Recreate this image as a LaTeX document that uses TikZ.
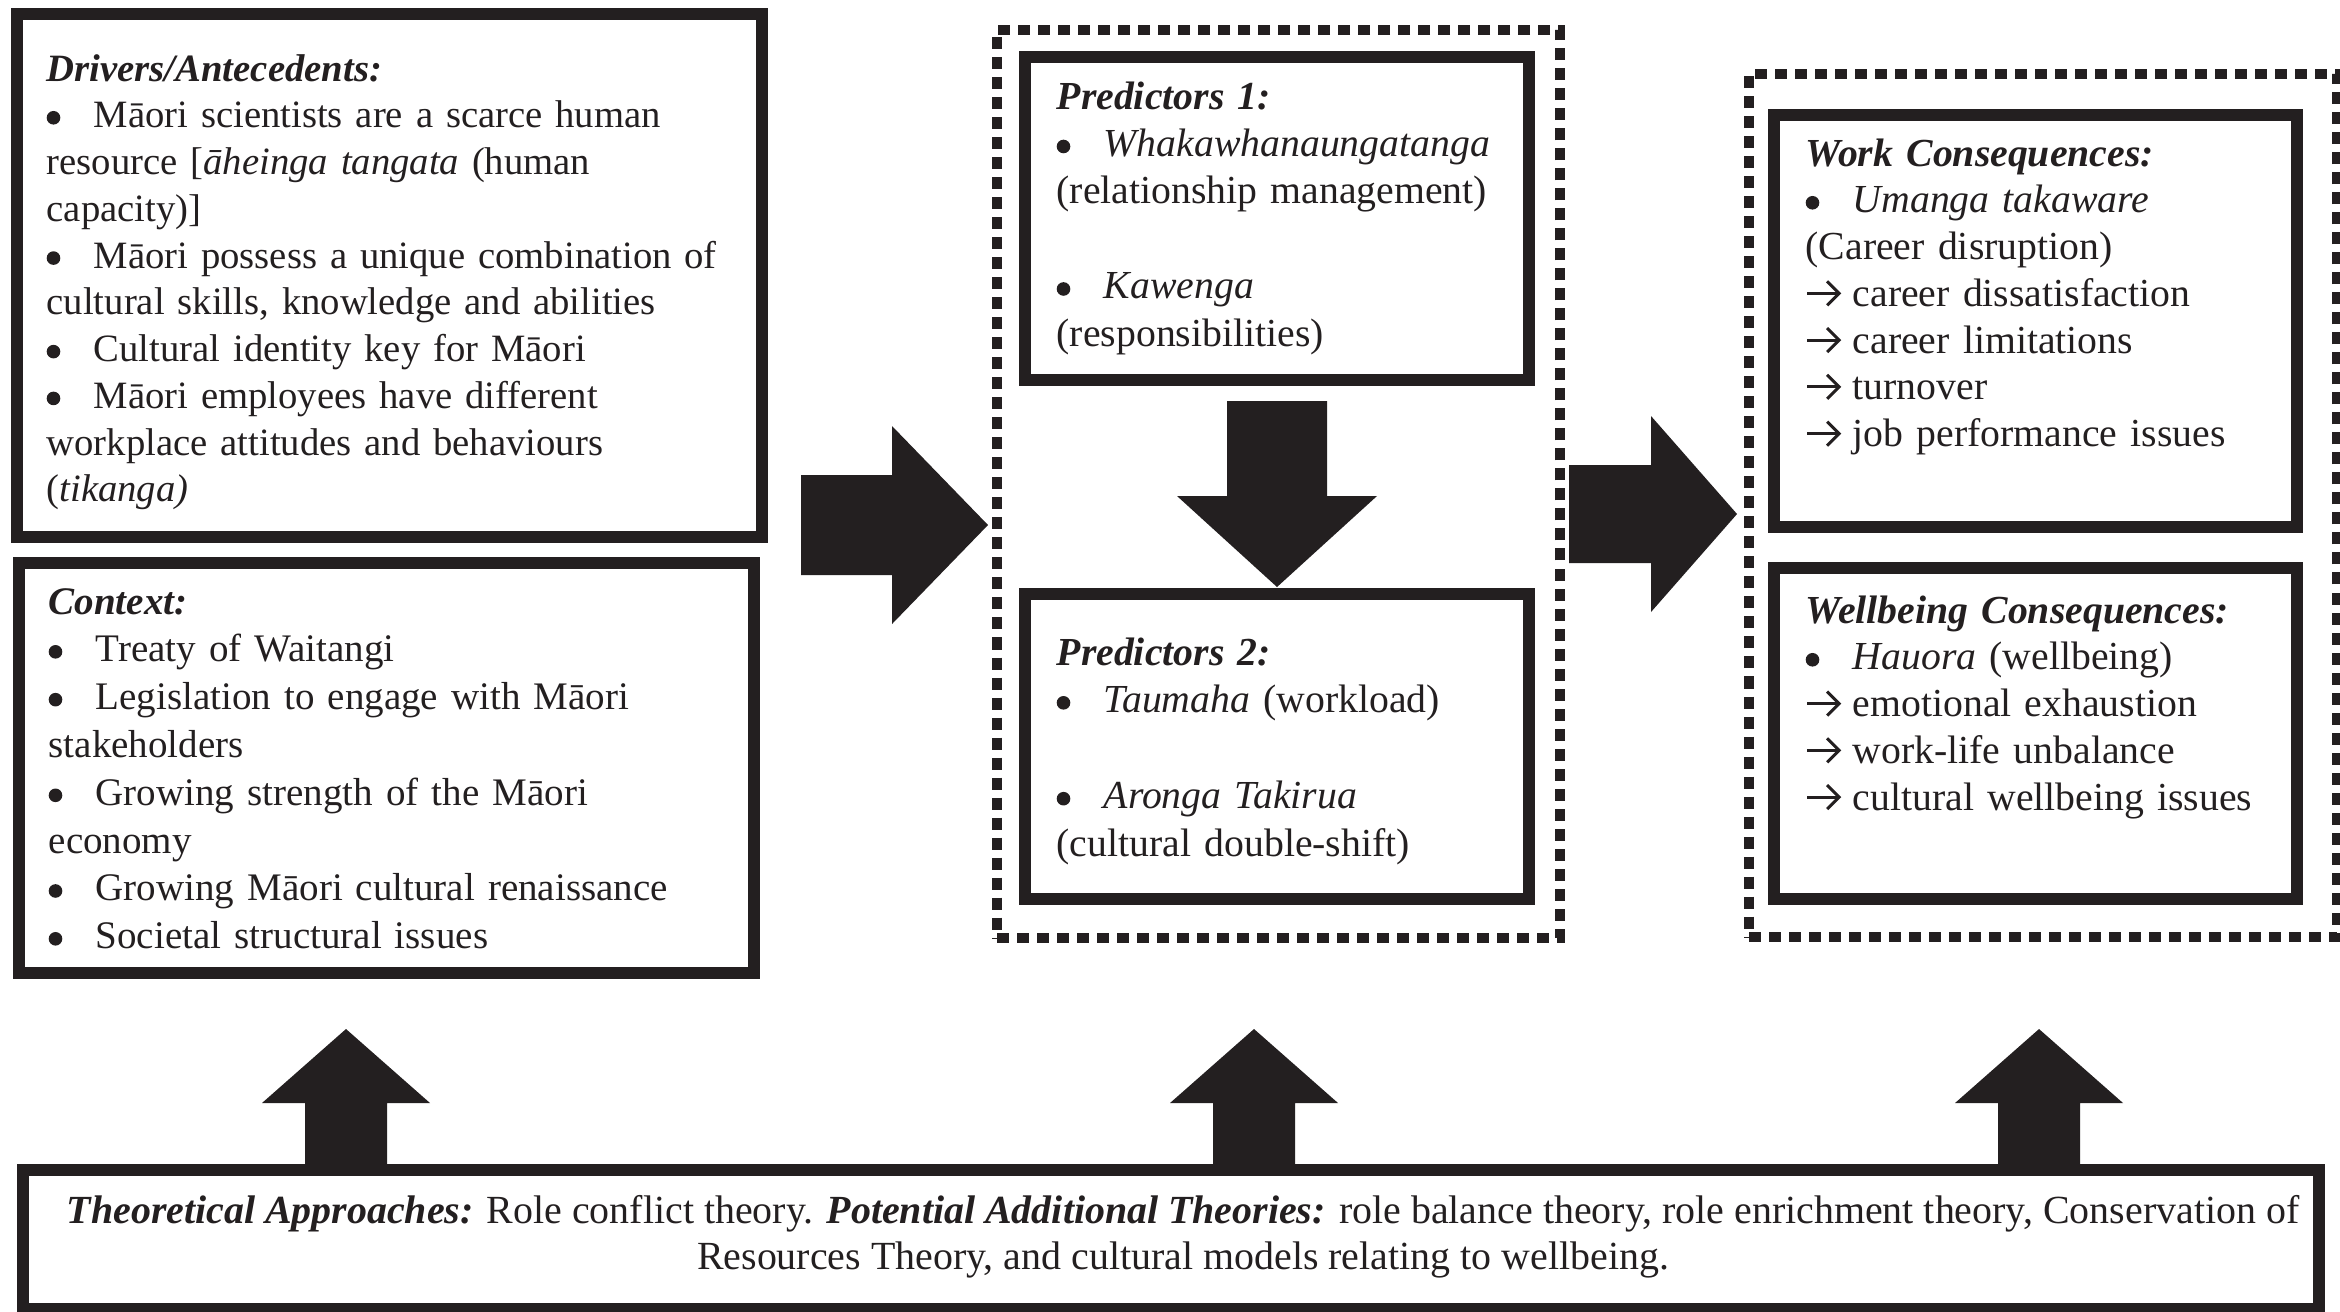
\documentclass[tikz,border=0pt]{standalone}
\usepackage{fontspec}
\setmainfont{Liberation Serif}
\usetikzlibrary{fit,arrows.meta}
\definecolor{ink}{RGB}{35,31,32}
% bullet and arrow markers with a fixed hanging width
\newcommand\bul{\makebox[0.47cm][l]{\tikz[baseline=-0.1cm,x=1cm,y=1cm]\fill[ink] (0.075,0) circle (0.068);}}
\newcommand\arr{\makebox[0.47cm][l]{\tikz[baseline=-0.13cm,x=1cm,y=1cm]\draw[ink,line width=0.03cm,-{Straight Barb[length=0.12cm,width=0.24cm]}] (0,0) -- (0.34,0);}}
\newcommand\hd[1]{\textbf{\textit{#1}}}
\begin{document}
\begin{tikzpicture}[x=0.01cm,y=-0.01cm,
  frame/.style={draw=ink, line width=0.12cm, inner sep=0pt},
  dotframe/.style={draw=ink, line width=0.10cm, dash pattern=on 0.12cm off 0.08cm, inner sep=0pt},
  txt/.style={inner sep=0pt, anchor=base west, align=left, text=ink,
    font=\fontsize{11.3}{13.3}\selectfont},
  ctr/.style={inner sep=0pt, anchor=base, text=ink, font=\fontsize{11.35}{13.3}\selectfont},
  blk/.style={fill=ink}]
\useasboundingbox (0,0) rectangle (2340,1311);

% ---- frames ----
\node[frame, fit={(17,14) (762,537)}] (drivers) {};
\node[frame, fit={(19,563) (754,973)}] (context) {};
\node[dotframe, fit={(997,30) (1560,938)}] (predgroup) {};
\node[frame, fit={(1025,57) (1529,380)}] (pred1) {};
\node[frame, fit={(1025,594) (1529,899)}] (pred2) {};
\node[dotframe, fit={(1749,74) (2337,937)}] (consgroup) {};
\node[frame, fit={(1774,115) (2297,527)}] (work) {};
\node[frame, fit={(1774,568) (2297,899)}] (wellb) {};
\node[frame, fit={(23,1170) (2319,1309)}] (theory) {};

% ---- texts ----
\node[txt, text width=7.1cm, font=\fontsize{11.0}{13.3}\selectfont] (drvtext) at (46,81) {\hd{Drivers/Antecedents:}\\
\bul Māori scientists are a scarce human\\
resource [\textit{āheinga tangata} (human\\
capacity)]\\
\bul Māori possess a unique combination of\\
cultural skills, knowledge and abilities\\
\bul Cultural identity key for Māori\\
\bul Māori employees have different\\
workplace attitudes and behaviours\\
(\textit{tikanga)}};

\node[txt, text width=7.0cm, font=\fontsize{11.1}{13.6}\selectfont] (ctxtext) at (48,614) {\hd{Context:}\\
\bul Treaty of Waitangi\\
\bul Legislation to engage with Māori\\
stakeholders\\
\bul Growing strength of the Māori\\
economy\\
\bul Growing Māori cultural renaissance\\
\bul Societal structural issues};

\node[txt, text width=4.6cm, font=\fontsize{11.3}{13.5}\selectfont] (p1text) at (1056,109) {\hd{Predictors 1:}\\
\bul\textit{Whakawhanaungatanga}\\
(relationship management)\\[0.475cm]
\bul\textit{Kawenga}\\
(responsibilities)};

\node[txt, text width=4.6cm, font=\fontsize{11.3}{13.6}\selectfont] (p2text) at (1056,665) {\hd{Predictors 2:}\\
\bul\textit{Taumaha} (workload)\\[0.48cm]
\bul\textit{Aronga Takirua}\\
(cultural double-shift)};

\node[txt, text width=4.8cm] (worktext) at (1805,166) {\hd{Work Consequences:}\\
\bul\textit{Umanga takaware}\\
(Career disruption)\\
\arr career dissatisfaction\\
\arr career limitations\\
\arr turnover\\
\arr job performance issues};

\node[txt, text width=4.8cm] (wbtext) at (1805,623) {\hd{Wellbeing Consequences:}\\
\bul\textit{Hauora} (wellbeing)\\
\arr emotional exhaustion\\
\arr work-life unbalance\\
\arr cultural wellbeing issues};

\node[ctr] (theo1) at (1183,1223) {\hd{Theoretical Approaches:} Role conflict theory. \hd{Potential Additional Theories:} role balance theory, role enrichment theory, Conservation of};
\node[ctr] (theo2) at (1183,1269) {Resources Theory, and cultural models relating to wellbeing.};

% ---- block arrows ----
\fill[blk] (801,475) -- (892,475) -- (892,426) -- (988,525) -- (892,624) -- (892,575) -- (801,575) -- cycle;
\fill[blk] (1569,465) -- (1651,465) -- (1651,416) -- (1737,514) -- (1651,612) -- (1651,563) -- (1569,563) -- cycle;
\fill[blk] (1227,401) -- (1327,401) -- (1327,496) -- (1377,496) -- (1277,587) -- (1177,496) -- (1227,496) -- cycle;
\foreach \cx in {346,1254,2039}{
  \fill[blk] (\cx-41,1170) -- (\cx-41,1103) -- (\cx-84,1103) -- (\cx,1029) -- (\cx+84,1103) -- (\cx+41,1103) -- (\cx+41,1170) -- cycle;
}
\end{tikzpicture}
\end{document}
